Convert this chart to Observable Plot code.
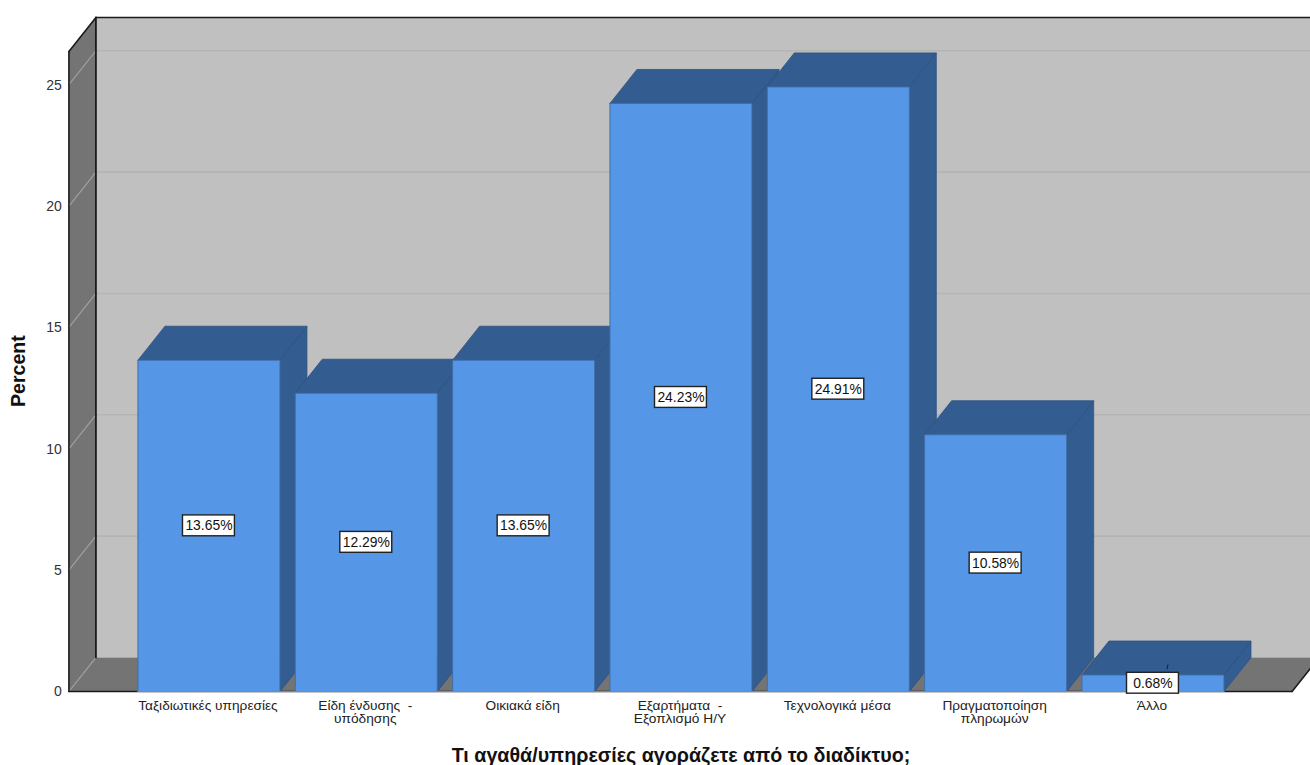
<!DOCTYPE html>
<html lang="el">
<head>
<meta charset="utf-8">
<script src="https://cdn.jsdelivr.net/npm/d3@7"></script>
<script src="https://cdn.jsdelivr.net/npm/@observablehq/plot@0.6"></script>
<style>
  html, body { margin: 0; padding: 0; background: #fff; overflow: hidden; }
  svg { display: block; }
</style>
</head>
<body>
<div id="chart"></div>
<script>
// Survey answers and their share of respondents, in percent.
const categories = [
  "Ταξιδιωτικές υπηρεσίες",
  "Είδη ένδυσης  -\nυπόδησης",
  "Οικιακά είδη",
  "Εξαρτήματα  -\nΕξοπλισμό Η/Υ",
  "Τεχνολογικά μέσα",
  "Πραγματοποίηση\nπληρωμών",
  "Άλλο"
];
const percents = [13.65, 12.29, 13.65, 24.23, 24.91, 10.58, 0.68];
const yTicks = [0, 5, 10, 15, 20, 25];

// Oblique depth of the box, in data units (categories, percentage points).
const depthX = 0.1716;
const depthY = 1.4;
const barHalf = 0.4513;
const wallLeft = -0.89;
const wallRight = 6.884;
const wallTop = 26.37;

const sideBlue = "#335c91";
const frontBlue = "#5596e6";
const wallGrey = "#c0c0c0";
const floorGrey = "#747474";

// A filled polygon given as [x, y] pairs in data units.
function face(corners, options) {
  const ring = [...corners, corners[0]].map(([x, y]) => ({x, y}));
  return Plot.line(ring, {x: "x", y: "y", strokeLinejoin: "miter", ...options});
}
function segment(x1, y1, x2, y2, stroke, strokeWidth) {
  return Plot.line([{x: x1, y: y1}, {x: x2, y: y2}], {x: "x", y: "y", stroke, strokeWidth});
}

// Back wall, left wall and floor of the chart box.
const shell = [
  face([[wallLeft + depthX, depthY], [wallRight + depthX, depthY],
        [wallRight + depthX, wallTop + depthY], [wallLeft + depthX, wallTop + depthY]],
       {fill: wallGrey}),
  face([[wallLeft, 0], [wallLeft + depthX, depthY],
        [wallLeft + depthX, wallTop + depthY], [wallLeft, wallTop]],
       {fill: floorGrey}),
  face([[wallLeft, 0], [wallRight, 0], [wallRight + depthX, depthY], [wallLeft + depthX, depthY]],
       {fill: floorGrey}),
  ...yTicks.slice(1).map(t => segment(wallLeft + depthX, t + depthY, wallRight + depthX, t + depthY, "#b4b4b4", 1.6)),
  ...yTicks.map(t => segment(wallLeft, t, wallLeft + depthX, t + depthY, "#a0a0a0", 1.2)),
  segment(wallLeft, 0, wallLeft, wallTop, "#1a1a1a", 1.6),
  segment(wallLeft, wallTop, wallLeft + depthX, wallTop + depthY, "#1a1a1a", 1.6),
  segment(wallLeft + depthX, wallTop + depthY, wallRight + depthX, wallTop + depthY, "#1a1a1a", 1.6),
  segment(wallLeft + depthX, depthY, wallLeft + depthX, wallTop + depthY, "#1a1a1a", 1.8),
  segment(wallLeft, 0, wallRight, 0, "#1a1a1a", 1.6),
  segment(wallRight, 0, wallRight + depthX, depthY, "#1a1a1a", 1.6)
];

// Bars are painted left to right so that each one covers its neighbour's side.
const bars = percents.flatMap((v, i) => {
  const l = i - barHalf, r = i + barHalf;
  return [
    face([[r, 0], [r + depthX, depthY], [r + depthX, v + depthY], [r, v]],
         {fill: sideBlue, stroke: "#2c5080", strokeWidth: 0.8}),
    face([[l, v], [r, v], [r + depthX, v + depthY], [l + depthX, v + depthY]],
         {fill: sideBlue, stroke: "#2c5080", strokeWidth: 0.8}),
    face([[l, 0], [r, 0], [r, v], [l, v]],
         {fill: frontBlue, stroke: "#3f6fa8", strokeWidth: 1})
  ];
});

// Value labels sit in white boxes at mid-height of the front face.
const labelHalfW = 0.165;
const labelHalfH = 0.43;
const labelRows = percents.map((v, i) => ({i, v, mid: v / 2}));

const chart = Plot.plot({
  width: 1310,
  height: 765,
  margin: 0,
  x: {type: "linear", domain: [-1.328, 6.998], range: [-0.5, 1309.5], axis: null},
  y: {type: "linear", domain: [0, 27.77], range: [691, 17], axis: null},
  style: {background: "#fff", fontFamily: "'Liberation Sans', Arial, sans-serif"},
  marks: [
    ...shell,
    ...bars,
    segment(-0.4513, 0, 6.4513, 0, "#7d8a99", 1),
    // Short leader above the smallest bar's label.
    segment(6.09, 0.93, 6.095, 1.1, "#222", 1),
    Plot.rect(labelRows, {
      x1: d => d.i - labelHalfW, x2: d => d.i + labelHalfW,
      y1: d => d.mid - labelHalfH, y2: d => d.mid + labelHalfH,
      fill: "#fff", stroke: "#222", strokeWidth: 1.4
    }),
    Plot.text(labelRows, {
      x: "i", y: "mid", text: d => d.v.toFixed(2) + "%",
      fontSize: 13.9, fill: "#111"
    }),
    Plot.text(yTicks, {
      x: () => wallLeft, y: d => d, text: d => String(d), dx: -7, dy: 0.5,
      textAnchor: "end", fontSize: 14, fill: "#333"
    }),
    Plot.text(categories, {
      x: (d, i) => i, y: () => 0, text: d => d, dx: -1, dy: 9.5,
      lineAnchor: "top", lineHeight: 0.94, fontSize: 13.7, fill: "#222"
    }),
    Plot.text(["Τι αγαθά/υπηρεσίες αγοράζετε από το διαδίκτυο;"], {
      x: () => 3, frameAnchor: "bottom", textAnchor: "middle", dy: -4, lineAnchor: "bottom",
      text: d => d, fontSize: 19.7, fontWeight: "bold", fill: "#111"
    }),
    Plot.text(["Percent"], {
      y: () => 13.2, frameAnchor: "left", textAnchor: "middle", dx: 18, rotate: -90,
      text: d => d, fontSize: 19.6, fontWeight: "bold", fill: "#111"
    })
  ]
});
document.getElementById("chart").appendChild(chart);
</script>
</body>
</html>
